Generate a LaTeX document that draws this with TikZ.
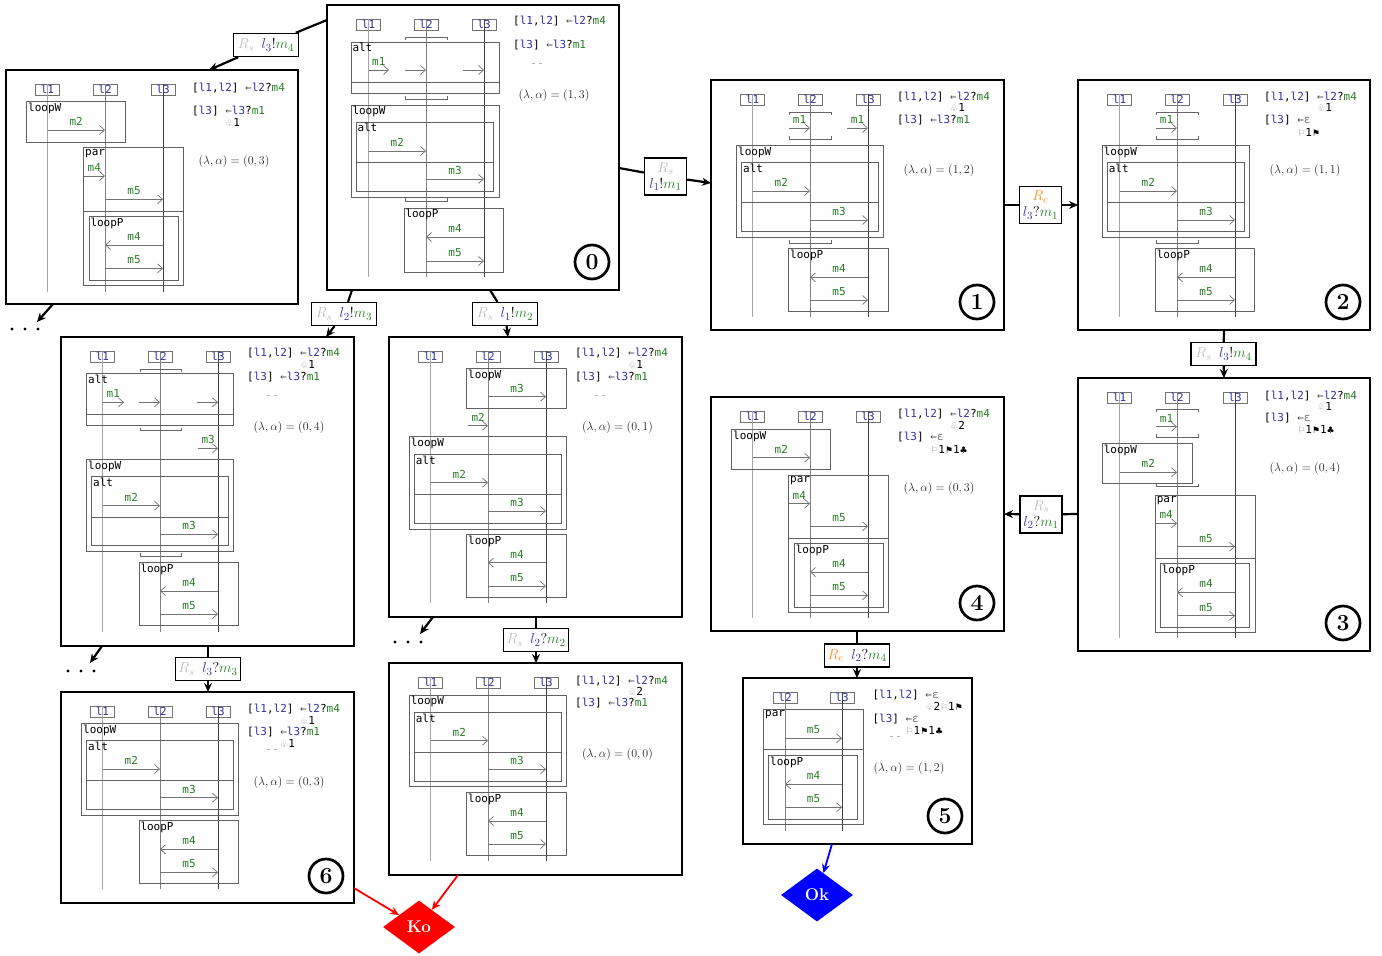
\documentclass[tikz,border=0pt]{standalone}
\usepackage{fontspec}
\usetikzlibrary{arrows.meta,calc,shapes.geometric}
\newfontfamily\monof{DejaVu Sans Mono}
\newfontfamily\symf{DejaVu Sans}
\definecolor{lblue}{RGB}{50,50,165}
\definecolor{mgreen}{RGB}{40,125,40}
\definecolor{rorange}{RGB}{255,140,30}
\newcommand\mf{\monof\fontsize{11}{13}\selectfont}
\newcommand\zLb[1]{\textcolor{lblue}{#1}}
\newcommand\zMg[1]{\textcolor{mgreen}{#1}}
\newcommand\zAr{\textcolor{black!70}{←}}
\newcommand\zEps{\textcolor{black!55}{ε}}
\newcommand\zLLtwo{[\zLb{l1},\zLb{l2}]}
\newcommand\zLLthr{[\zLb{l3}]}
\newcommand\zWC{{\symf\fontsize{9}{10}\selectfont\textcolor{black!40}{♧}}}
\newcommand\zBC{{\symf\fontsize{9}{10}\selectfont ♣}}
\newcommand\zWF{{\symf\fontsize{9}{10}\selectfont\textcolor{black!40}{⚐}}}
\newcommand\zBF{{\symf\fontsize{9}{10}\selectfont ⚑}}
\newcommand\zRs{\textcolor{black!25}{R_s}}
\newcommand\zRe{\textcolor{rorange}{R_e}}
\newcommand\zThree[1]{%
  \draw[hdrbox] (29.5,14) rectangle (53.5,25);
  \draw[hdrbox] (87,14) rectangle (111,25);
  \draw[hdrbox] (145,14) rectangle (169,25);
  \draw[llA] (41.5,14) -- (41.5,#1);
  \draw[llB] (99,14) -- (99,#1);
  \draw[llC] (157,14) -- (157,#1);
  \node[hdrt] at (41.5,19.5) {l1};
  \node[hdrt] at (99,19.5) {l2};
  \node[hdrt] at (157,19.5) {l3};}
\newcommand\zMsg[4]{\draw[msg] (#1,#3) -- (#2,#3); \node[mlab] at ({(#1+#2)/2},{#3-8.5}) {#4};}
\newcommand\zMsgN[3]{\draw[msg] (#1,#3) -- (#2,#3);}
\newcommand\zFrm[5]{\draw[frm] (#1,#2) rectangle (#3,#4); \node[frmlab] at (#1,#2) {#5};}
\newcommand\zDv[3]{\draw[frm] (#1,#3) -- (#2,#3);}
\newcommand\zBrD[3]{\draw[brk] (#1,{#3+3}) -- (#1,#3) -- (#2,#3) -- (#2,{#3+3});}
\newcommand\zBrU[3]{\draw[brk] (#1,{#3-3}) -- (#1,#3) -- (#2,#3) -- (#2,{#3-3});}
\newcommand\zLA[3]{\node[la] at (#1,#2) {$(\lambda,\alpha) = (#3)$};}
\newcommand\zNum[3]{\node[num] at (#1,#2) {#3};}
\newcommand\zRT[3]{\node[rt] at (#1,#2) {#3};}
\newcommand\zAa[3]{\node[rt] at (#1,#2) {\hphantom{[l1,l2] }#3};}
\newcommand\zAb[3]{\node[rt] at (#1,#2) {\hphantom{[l3] }#3};}
\newcommand\zDash[3]{\draw[black!30, line width=0.6pt, dash pattern=on 3pt off 4pt] (#1,#3) -- (#2,#3);}
\newcommand\zLone{\zLLtwo{} \zAr\zLb{l2}?\zMg{m4}}
\newcommand\zLtwo{\zLLthr{} \zAr\zLb{l3}?\zMg{m1}}
\newcommand\zLtwoE{\zLLthr{} \zAr\zEps}
\begin{document}
\begin{tikzpicture}[x=1pt,y=-1pt,
 box/.style={draw=black, line width=1.1pt, fill=white, anchor=north west, inner sep=0pt, outer sep=0pt},
 frm/.style={draw=black!62, line width=0.75pt},
 frmlab/.style={anchor=north west, inner sep=1.3pt, font=\mf, text=black},
 llA/.style={draw=black!35, line width=1.1pt},
 llB/.style={draw=black!50, line width=0.9pt},
 llC/.style={draw=black!75, line width=0.7pt},
 msg/.style={draw=black!55, line width=0.7pt, -{Straight Barb[length=5pt,width=9pt]}},
 mlab/.style={font=\mf, text=mgreen, inner sep=0pt},
 hdrbox/.style={draw=black!55, line width=0.8pt, fill=white},
 hdrt/.style={font=\mf, text=lblue, inner sep=0pt},
 brk/.style={draw=black!60, line width=0.75pt},
 rt/.style={anchor=west, font=\mf, inner sep=0pt},
 la/.style={font=\fontsize{12.3}{14}\selectfont, text=black!85},
 num/.style={circle, draw, line width=2.7pt, minimum size=34pt, inner sep=0pt, font=\fontsize{23}{23}\selectfont\bfseries},
 tl/.style={draw=black, line width=1.4pt, fill=white, inner sep=1.5pt, font=\fontsize{15}{16}\selectfont, minimum width=65pt, minimum height=23pt},
 tlb/.style={draw=black, line width=1.4pt, fill=white, inner sep=1.5pt, font=\fontsize{15}{16}\selectfont, minimum width=42pt, minimum height=37pt, align=center},
 conn/.style={line width=2.2pt},
 conna/.style={line width=2.2pt, -{Stealth[length=9pt,width=8pt]}},
 okd/.style={diamond, aspect=1.4, minimum width=72pt, minimum height=53pt, inner sep=0pt, text=white, font=\fontsize{17}{17}\selectfont\bfseries},
 dotf/.style={fill=black}]
\fill[white] (0,0) rectangle (1382,956);
\useasboundingbox (0,0) rectangle (1382,956);

% ---------------- B0
\node[box, minimum width=292pt, minimum height=285pt] (B0) at (327,5) {};
\begin{scope}[shift={(327,5)}]
\zThree{272}
\zBrD{78}{120}{32}
\zFrm{24}{37}{172}{88}{alt}
\zDv{24}{172}{77}
\zMsg{41.5}{62}{65}{m1}
\zMsgN{78}{99}{65}
\zMsgN{136}{157}{65}
\zBrU{78}{120}{94}
\zFrm{24}{100}{172}{192}{loopW}
\zFrm{29}{117}{166}{186}{alt}
\zDv{29}{166}{157}
\zMsg{41.5}{99}{146}{m2}
\zMsg{99}{157}{174}{m3}
\zBrU{78}{120}{196}
\zFrm{77}{203}{176}{267}{loopP}
\zMsg{157}{99}{232}{m4}
\zMsg{99}{157}{256}{m5}
\zRT{186}{16}{\zLone}
\zRT{186}{40}{\zLtwo}
\zDash{205}{216}{58}
\zLA{227}{90}{1,3}
\zNum{265}{257}{0}
\end{scope}

% ---------------- BTL
\node[box, minimum width=292pt, minimum height=234pt] (BTL) at (6,70) {};
\begin{scope}[shift={(6,70)}]
\zThree{222}
\zFrm{20.7}{31.7}{119.3}{72.3}{loopW}
\zMsg{41.5}{99}{60}{m2}
\zFrm{77.7}{77.7}{177.3}{215.7}{par}
\zDv{77.7}{177.3}{141.7}
\zMsg{77.7}{99}{106}{m4}
\zMsg{99}{157}{129.3}{m5}
\zFrm{83}{146.7}{172}{210}{loopP}
\zMsg{157}{99}{175}{m4}
\zMsg{99}{157}{198.3}{m5}
\zRT{186}{18}{\zLone}
\zRT{186}{41}{\zLtwo}
\zAb{186}{52.7}{\zWC1}
\zLA{228}{91}{0,3}
\end{scope}

% ---------------- B1
\node[box, minimum width=293pt, minimum height=250pt] (B1) at (711,80) {};
\begin{scope}[shift={(711,80)}]
\zThree{237}
\zBrD{78}{120}{32}
\zMsg{78}{99}{48}{m1}
\zMsg{136}{157}{48}{m1}
\zBrU{78}{120}{59}
\zFrm{25.7}{65.3}{172.3}{157.3}{loopW}
\zFrm{30.7}{82.3}{167.3}{151.7}{alt}
\zDv{30.7}{167.3}{122.7}
\zMsg{41.5}{99}{111}{m2}
\zMsg{99}{157}{140}{m3}
\zBrU{78}{120}{163}
\zFrm{77.7}{168.3}{177.3}{231}{loopP}
\zMsg{157}{99}{197.3}{m4}
\zMsg{99}{157}{220}{m5}
\zRT{186}{17}{\zLone}
\zAa{186}{27.5}{\zWC1}
\zRT{186}{40}{\zLtwo}
\zLA{228}{90}{1,2}
\zNum{266}{222}{1}
\end{scope}

% ---------------- B2
\node[box, minimum width=292pt, minimum height=250pt] (B2) at (1078,80) {};
\begin{scope}[shift={(1078,80)}]
\zThree{237}
\zBrD{78}{120}{32}
\zMsg{78}{99}{48}{m1}
\zBrU{78}{120}{59}
\zFrm{24.3}{65.3}{171.7}{157.3}{loopW}
\zFrm{29.3}{82.3}{166.3}{151.7}{alt}
\zDv{29.3}{166.3}{122.7}
\zMsg{41.5}{99}{111}{m2}
\zMsg{99}{157}{140}{m3}
\zBrU{78}{120}{163}
\zFrm{77.3}{168.3}{176.7}{231}{loopP}
\zMsg{157}{99}{197.3}{m4}
\zMsg{99}{157}{220}{m5}
\zRT{186}{17}{\zLone}
\zAa{186}{27.5}{\zWC1}
\zRT{186}{40}{\zLtwoE}
\zAb{186}{52}{\zWF1\zBF}
\zLA{227}{90}{1,1}
\zNum{265}{222}{2}
\end{scope}

% ---------------- B3
\node[box, minimum width=292pt, minimum height=273pt] (B3) at (1078,378) {};
\begin{scope}[shift={(1078,378)}]
\zThree{260}
\zBrD{78}{120}{31.3}
\zMsg{78}{99}{48.7}{m1}
\zBrU{78}{120}{59.3}
\zFrm{24.3}{65.3}{114}{105.3}{loopW}
\zMsg{41.5}{99}{94.3}{m2}
\zBrU{78}{120}{108.7}
\zFrm{77.3}{117}{177.3}{254.7}{par}
\zDv{77.3}{177.3}{180.3}
\zMsg{77.3}{99}{145.3}{m4}
\zMsg{99}{157}{168.7}{m5}
\zFrm{82.3}{185.3}{171.7}{249.3}{loopP}
\zMsg{157}{99}{214.3}{m4}
\zMsg{99}{157}{237.7}{m5}
\zRT{186}{17.7}{\zLone}
\zAa{186}{28.7}{\zWC1}
\zRT{186}{40.3}{\zLtwoE}
\zAb{186}{51.3}{\zWF1\zBF1\zBC}
\zLA{227}{90}{0,4}
\zNum{265}{245}{3}
\end{scope}

% ---------------- B4
\node[box, minimum width=293pt, minimum height=234pt] (B4) at (711,397) {};
\begin{scope}[shift={(711,397)}]
\zThree{221}
\zFrm{20.7}{32.3}{119.3}{72.3}{loopW}
\zMsg{41.5}{99}{60.7}{m2}
\zFrm{77.7}{78.3}{177.3}{215}{par}
\zDv{77.7}{177.3}{141}
\zMsg{77.7}{99}{106.7}{m4}
\zMsg{99}{157}{129.3}{m5}
\zFrm{83.3}{146.7}{172.3}{210}{loopP}
\zMsg{157}{99}{175}{m4}
\zMsg{99}{157}{198.3}{m5}
\zRT{186}{17}{\zLone}
\zAa{186}{28}{\zWC2}
\zRT{186}{40}{\zLtwoE}
\zAb{186}{52}{\zWF1\zBF1\zBC}
\zLA{228}{91}{0,3}
\zNum{266}{206}{4}
\end{scope}

% ---------------- B5
\node[box, minimum width=229pt, minimum height=166pt] (B5) at (743,678) {};
\begin{scope}[shift={(743,678)}]
\draw[hdrbox] (30,14) rectangle (54,25);
\draw[hdrbox] (87,14) rectangle (111,25);
\draw[llB] (42,14) -- (42,152.7);
\draw[llC] (99,14) -- (99,152.7);
\node[hdrt] at (42,19.5) {l2};
\node[hdrt] at (99,19.5) {l3};
\zFrm{20.7}{31.3}{120}{146.3}{par}
\zDv{20.7}{120}{71}
\zMsg{42}{99}{60.3}{m5}
\zFrm{25.7}{77.3}{114.7}{141}{loopP}
\zMsg{99}{42}{106.3}{m4}
\zMsg{42}{99}{129.3}{m5}
\zRT{129.3}{17}{\zLLtwo{} \zAr\zEps}
\zAa{129.3}{28.7}{\zWC2\zWF1\zBF}
\zRT{129.3}{41}{\zLtwoE}
\zAb{129.3}{52}{\zWF1\zBF1\zBC}
\zDash{147}{160}{58.7}
\zLA{166}{90}{1,2}
\zNum{202}{138}{5}
\end{scope}

% ---------------- BM1
\node[box, minimum width=293pt, minimum height=309pt] (BM1) at (61,337) {};
\begin{scope}[shift={(61,337)}]
\zThree{294.7}
\zBrD{79.7}{120.7}{32}
\zFrm{25.7}{36.3}{172.3}{88.3}{alt}
\zDv{25.7}{172.3}{77}
\zMsg{41.5}{63}{65.3}{m1}
\zMsgN{78}{99}{65.3}
\zMsgN{136}{157}{65.3}
\zBrU{79.7}{120.7}{93.7}
\zMsg{137.3}{157}{111.3}{m3}
\zFrm{25.7}{122.3}{172.3}{214.7}{loopW}
\zFrm{30.7}{139.7}{167.7}{208.7}{alt}
\zDv{30.7}{167.7}{180.3}
\zMsg{41.5}{99}{168.7}{m2}
\zMsg{99}{157}{197.3}{m3}
\zBrU{79.7}{120.7}{219}
\zFrm{78}{225.7}{177.3}{288}{loopP}
\zMsg{157}{99}{254}{m4}
\zMsg{99}{157}{277}{m5}
\zRT{186}{16.3}{\zLone}
\zAa{186}{27}{\zWC1}
\zRT{186}{39.7}{\zLtwo}
\zDash{206}{217}{58.7}
\zLA{228}{90}{0,4}
\end{scope}

% ---------------- BM2
\node[box, minimum width=293pt, minimum height=280pt] (BM2) at (389,337) {};
\begin{scope}[shift={(389,337)}]
\zThree{266.3}
\zFrm{77.7}{31.3}{177.7}{71.3}{loopW}
\zMsg{99}{157}{59.7}{m3}
\zMsg{79.3}{99}{88.7}{m2}
\zFrm{20.3}{99.7}{177.7}{192}{loopW}
\zFrm{25.3}{117.3}{172.7}{186.3}{alt}
\zDv{25.3}{172.7}{157.3}
\zMsg{41.5}{99}{145.7}{m2}
\zMsg{99}{157}{174}{m3}
\zFrm{77.7}{197.3}{177.7}{260.3}{loopP}
\zMsg{157}{99}{225.7}{m4}
\zMsg{99}{157}{249}{m5}
\zRT{186}{16.3}{\zLone}
\zAa{186}{27}{\zWC1}
\zRT{186}{39.7}{\zLtwo}
\zDash{206}{217}{58.7}
\zLA{228.5}{90}{0,1}
\end{scope}

% ---------------- B6
\node[box, minimum width=293pt, minimum height=211pt] (B6) at (61,692) {};
\begin{scope}[shift={(61,692)}]
\zThree{197.3}
\zFrm{20.7}{31.3}{177.3}{123}{loopW}
\zFrm{25.7}{48.7}{172.3}{117.3}{alt}
\zDv{25.7}{172.3}{88}
\zMsg{41.5}{99}{77}{m2}
\zMsg{99}{157}{105.7}{m3}
\zFrm{78}{128.7}{177.3}{191.3}{loopP}
\zMsg{157}{99}{157.3}{m4}
\zMsg{99}{157}{180.3}{m5}
\zRT{186}{17}{\zLone}
\zAa{186}{28.7}{\zWC1}
\zRT{186}{39.7}{\zLtwo}
\zAb{186}{51.3}{\zWC1}
\zDash{206}{217}{57.5}
\zLA{228}{90}{0,3}
\zNum{265}{184}{6}
\end{scope}

% ---------------- BM3
\node[box, minimum width=293pt, minimum height=212pt] (BM3) at (389,663) {};
\begin{scope}[shift={(389,663)}]
\zThree{198}
\zFrm{20.3}{32}{177.7}{123.7}{loopW}
\zFrm{25.3}{49.3}{172.7}{118.7}{alt}
\zDv{25.3}{172.7}{89.3}
\zMsg{41.5}{99}{77.7}{m2}
\zMsg{99}{157}{106.3}{m3}
\zFrm{77.7}{129.3}{177.7}{192.7}{loopP}
\zMsg{157}{99}{158}{m4}
\zMsg{99}{157}{181}{m5}
\zRT{186}{18}{\zLone}
\zAa{186}{28.7}{\zWC2}
\zRT{186}{40.3}{\zLtwo}
\zLA{228.5}{91}{0,0}
\end{scope}

% ---------------- end nodes
\node[okd, fill=blue] (OK) at (817,895) {Ok};
\node[okd, fill=red] (KO) at (419,927) {Ko};

% ---------------- transitions
\node[tl] (T1) at (266,45) {$\zRs\enspace\zLb{l_3}!\zMg{m_4}$};
\draw[conn] ($(B0.north west)+(0,15)$) -- (T1);
\draw[conna] (T1) -- ($(BTL.north west)+(203,0)$);

\node[tlb] (T2) at (665.5,176.5) {$\zRs$\\$\zLb{l_1}!\zMg{m_1}$};
\draw[conn] ($(B0.north east)+(0,163)$) -- (T2);
\draw[conna] (T2) -- ($(B1.north west)+(0,103)$);

\node[tlb] (T3) at (1040.5,205) {$\zRe$\\$\zLb{l_3}?\zMg{m_1}$};
\draw[conn] ($(B1.north east)+(0,125)$) -- (T3);
\draw[conna] (T3) -- ($(B2.north west)+(0,125)$);

\node[tl] (T4) at (1223.5,354) {$\zRs\enspace\zLb{l_3}!\zMg{m_4}$};
\draw[conn] ($(B2.south west)+(146,0)$) -- (T4);
\draw[conna] (T4) -- ($(B3.north west)+(146,0)$);

\node[tlb] (T5) at (1041,514.5) {$\zRs$\\$\zLb{l_2}?\zMg{m_1}$};
\draw[conn] ($(B3.north west)+(0,136)$) -- (T5);
\draw[conna] (T5) -- ($(B4.north east)+(0,117)$);

\node[tl] (T6) at (857,655.5) {$\zRe\enspace\zLb{l_2}?\zMg{m_4}$};
\draw[conn] ($(B4.south west)+(146,0)$) -- (T6);
\draw[conna] (T6) -- ($(B5.north west)+(114,0)$);

\draw[conna, draw=blue, fill=blue, line width=1.8pt] ($(B5.south west)+(89,0)$) -- (OK);

\node[tl] (T7) at (344,314) {$\zRs\enspace\zLb{l_2}!\zMg{m_3}$};
\draw[conn] ($(B0.south west)+(25,0)$) -- (T7);
\draw[conna] (T7) -- ($(BM1.north west)+(265,0)$);

\node[tl] (T8) at (505,314) {$\zRs\enspace\zLb{l_1}!\zMg{m_2}$};
\draw[conn] ($(B0.south west)+(163,0)$) -- (T8);
\draw[conna] (T8) -- ($(BM2.north west)+(119,0)$);

\node[tl] (T9) at (208,669) {$\zRs\enspace\zLb{l_3}?\zMg{m_3}$};
\draw[conn] ($(BM1.south west)+(147,0)$) -- (T9);
\draw[conna] (T9) -- ($(B6.north west)+(147,0)$);

\node[tl] (T10) at (536,640) {$\zRs\enspace\zLb{l_2}?\zMg{m_2}$};
\draw[conn] ($(BM2.south west)+(147,0)$) -- (T10);
\draw[conna] (T10) -- ($(BM3.north west)+(147,0)$);

% ---------------- dots
\coordinate (D1) at (37,322);
\coordinate (D2) at (90,663);
\coordinate (D3) at (420,634);
\draw[conna] ($(BTL.south west)+(47,0)$) -- (D1);
\draw[conna] ($(BM1.south west)+(41,0)$) -- (D2);
\draw[conna] ($(BM2.south west)+(44,0)$) -- (D3);
\foreach \px in {12,25,38} \fill[dotf] (\px,329) circle (1.7);
\foreach \px in {68,81,94} \fill[dotf] (\px,671) circle (1.7);
\foreach \px in {395,408,421} \fill[dotf] (\px,642) circle (1.7);

% ---------------- Ko arrows
\draw[conna, draw=red, fill=red, line width=1.8pt] ($(B6.south east)+(0,-15)$) -- (KO);
\draw[conna, draw=red, fill=red, line width=1.8pt] ($(BM3.south west)+(69,0)$) -- (KO);
\end{tikzpicture}
\end{document}
